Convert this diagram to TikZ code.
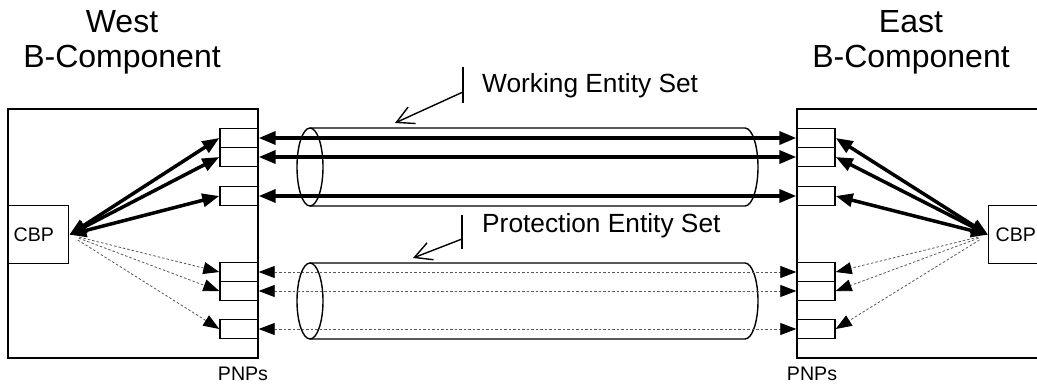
\documentclass[tikz,border=0pt]{standalone}
\usepackage{fontspec}
\setmainfont{Liberation Sans}
\usetikzlibrary{arrows.meta,calc}
\begin{document}
\begin{tikzpicture}[x=1pt,y=-1pt,
  box/.style={draw,line width=1.4pt},
  cbpbox/.style={draw,line width=1.4pt,minimum height=58pt,inner xsep=5pt,inner ysep=0pt,text width=50pt,align=left,font=\fontsize{19.6}{22}\selectfont},
  port/.style={draw,line width=1.4pt,minimum width=38pt,minimum height=19pt,inner sep=0pt,fill=white},
  work/.style={line width=3.5pt,{Triangle[length=17pt,width=13pt]}-{Triangle[length=17pt,width=13pt]}},
  prot/.style={line width=0.8pt,draw=black!65,dash pattern=on 2.5pt off 2pt,{Triangle[length=16pt,width=12pt,color=black]}-{Triangle[length=16pt,width=12pt,color=black]}},
  protcbp/.style={line width=0.8pt,draw=black!65,dash pattern=on 2.5pt off 2pt,shorten <=10pt,-{Triangle[length=16pt,width=12pt,color=black]}},
  cyl/.style={draw,line width=1.4pt},
  callout/.style={draw,line width=1.4pt},
  head/.style={font=\fontsize{32}{35}\selectfont,align=center,anchor=base,inner sep=0pt},
  lbl/.style={font=\fontsize{26.3}{30}\selectfont,anchor=base west,inner sep=0pt},
  small/.style={font=\fontsize{19.6}{22}\selectfont,anchor=base,inner sep=0pt}]
\useasboundingbox (0,0) rectangle (1037,385);
\fill[white] (0,0) rectangle (1037,385);
\clip (0,0) rectangle (1037,385);
% headings
\node[head] (westh) at (122,68) {West\\B-Component};
\node[head] (easth) at (911,68) {East\\B-Component};
% component boxes
\draw[box] (8,109) rectangle (258,358);
\draw[box] (797,109) rectangle (1060,358);
\node[cbpbox,anchor=north west] (cbpW) at (8,205) {CBP};
\node[cbpbox,anchor=north west,inner xsep=7pt] (cbpE) at (988,205) {CBP};
% cylinders
\draw[cyl] (310,167) ellipse [x radius=13, y radius=39];
\draw[cyl] (310,128) -- (745,128) arc[start angle=-90, end angle=90, x radius=13, y radius=39] -- (310,206);
\draw[cyl] (310,301) ellipse [x radius=13, y radius=38];
\draw[cyl] (310,263) -- (745,263) arc[start angle=-90, end angle=90, x radius=13, y radius=38] -- (310,339);
% ports
\foreach \n/\y in {1/138,2/157,3/196,4/272,5/291,6/329}{
  \node[port] (w\n) at (239,\y) {};
  \node[port] (e\n) at (816,\y) {};
}
% working entity set
\foreach \n in {1,2,3}{
  \draw[work] (w\n.east) -- (e\n.west);
  \draw[work] (cbpW.east) -- (w\n.west);
  \draw[work] (cbpE.west) -- (e\n.east);
}
% protection entity set
\foreach \n in {4,5,6}{
  \draw[prot] (w\n.east) -- (e\n.west);
  \draw[protcbp] (cbpW.east) -- (w\n.west);
  \draw[protcbp] (cbpE.west) -- (e\n.east);
}
% callouts
\coordinate (wbt) at (463,67);
\coordinate (wbb) at (463,103);
\coordinate (wbm) at (463,92);
\coordinate (wtip) at (395,123);
\draw[callout] (wbt) -- (wbb);
\draw[callout,-{Straight Barb[length=17pt,width=18pt]}] (wbm) -- (wtip);
\node[lbl] (wlbl) at (482,93) {Working Entity Set};
\coordinate (pbt) at (462,215);
\coordinate (pbb) at (462,249);
\coordinate (pbm) at (462,239);
\coordinate (ptip) at (413,258);
\draw[callout] (pbt) -- (pbb);
\draw[callout,-{Straight Barb[length=17pt,width=18pt]}] (pbm) -- (ptip);
\node[lbl] (plbl) at (482,233) {Protection Entity Set};
% PNPs
\node[small] (pnpW) at (243,380) {PNPs};
\node[small] (pnpE) at (812,380) {PNPs};
\end{tikzpicture}
\end{document}
